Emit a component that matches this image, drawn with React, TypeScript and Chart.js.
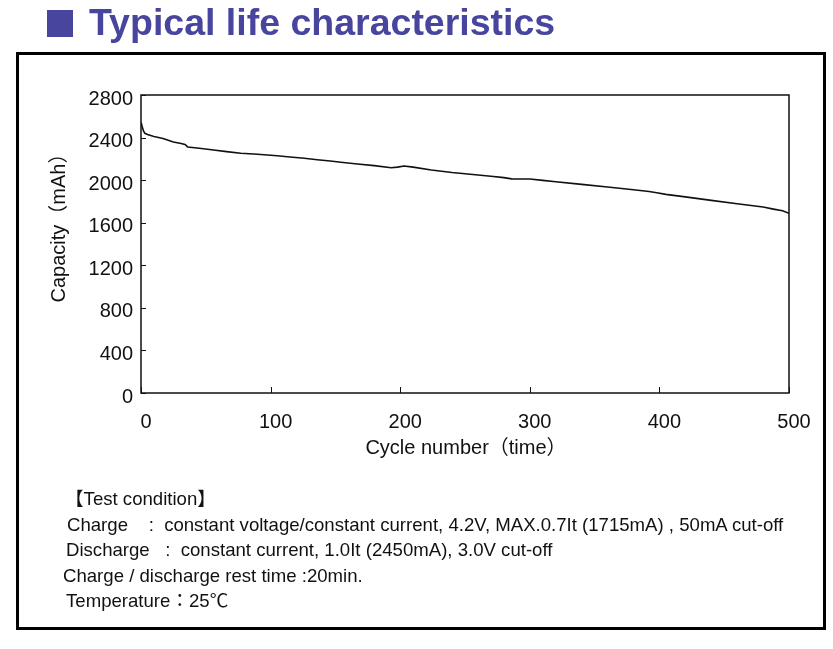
import React, { useEffect, useRef } from "react";
import { Chart, registerables } from "chart.js";

Chart.register(...registerables);

const cycles = [0, 1, 2, 3, 5, 10, 17, 25, 30, 34, 36, 45, 56, 66, 77, 87, 95, 105, 115, 126, 136, 146, 156, 167, 180, 193, 198, 203, 210, 224, 240, 250, 260, 270, 280, 286, 300, 310, 320, 340, 360, 380, 392, 398, 405, 420, 440, 460, 480, 488, 495, 500];
const capacity = [2545, 2500, 2460, 2440, 2428, 2410, 2392, 2358, 2346, 2336, 2312, 2300, 2283, 2268, 2252, 2245, 2238, 2229, 2218, 2205, 2192, 2180, 2166, 2152, 2136, 2117, 2122, 2133, 2122, 2096, 2072, 2060, 2048, 2036, 2024, 2012, 2011, 1998, 1985, 1960, 1935, 1910, 1893, 1882, 1866, 1843, 1810, 1778, 1747, 1728, 1712, 1688];

const xTicks = { min: 0, max: 500, step: 100 };
const yTicks = { min: 0, max: 2800, step: 400 };

const titleText = "Typical life characteristics";
const xTitle = "Cycle number（time）";
const yTitle = "Capacity（mAh）";
const conditionLines = [
  "【Test condition】",
  "Charge    :  constant voltage/constant current, 4.2V, MAX.0.7It (1715mA) , 50mA cut-off",
  "Discharge   :  constant current, 1.0It (2450mA), 3.0V cut-off",
  "Charge / discharge rest time :20min.",
  "Temperature：25℃",
];

const FONT = '"Liberation Sans", Arial, "Noto Sans CJK JP", sans-serif';

const framePlugin = {
  id: "frameTicks",
  afterDatasetsDraw(chart: any) {
    const { ctx, chartArea, scales } = chart;
    ctx.save();
    ctx.strokeStyle = "#111";
    ctx.lineWidth = 1.5;
    ctx.strokeRect(chartArea.left, chartArea.top, chartArea.right - chartArea.left, chartArea.bottom - chartArea.top);
    ctx.lineWidth = 1;
    ctx.beginPath();
    scales.x.ticks.forEach((t: any) => {
      const px = Math.round(scales.x.getPixelForValue(t.value)) + 0.5;
      ctx.moveTo(px, chartArea.bottom);
      ctx.lineTo(px, chartArea.bottom - 6);
    });
    scales.y.ticks.forEach((t: any) => {
      const py = Math.round(scales.y.getPixelForValue(t.value)) + 0.5;
      ctx.moveTo(chartArea.left, py);
      ctx.lineTo(chartArea.left + 5, py);
    });
    ctx.stroke();
    ctx.restore();
  },
};

export default function App() {
  const ref = useRef<HTMLCanvasElement | null>(null);

  useEffect(() => {
    if (!ref.current) return;
    const chart = new Chart(ref.current, {
      type: "line",
      data: {
        datasets: [
          {
            data: cycles.map((c, i) => ({ x: c, y: capacity[i] })),
            borderColor: "#111",
            borderWidth: 1.6,
            pointRadius: 0,
            tension: 0,
            fill: false,
          },
        ],
      },
      options: {
        animation: false,
        responsive: false,
        devicePixelRatio: 1,
        layout: { padding: { left: 0, top: 95, right: 44, bottom: 216 } },
        plugins: { legend: { display: false }, tooltip: { enabled: false } },
        scales: {
          x: {
            type: "linear",
            min: xTicks.min,
            max: xTicks.max,
            grid: { display: false, drawTicks: false },
            border: { display: false },
            ticks: {
              stepSize: xTicks.step,
              color: "#111",
              font: { family: FONT, size: 20 },
              padding: 17,
              labelOffset: 5,
              maxRotation: 0,
              callback: (v: any) => String(v),
            },
            afterFit: (s: any) => {
              s.height = 40;
            },
          },
          y: {
            min: yTicks.min,
            max: yTicks.max,
            grid: { display: false, drawTicks: false },
            border: { display: false },
            ticks: {
              stepSize: yTicks.step,
              color: "#111",
              font: { family: FONT, size: 20 },
              padding: 8,
              labelOffset: 4,
              callback: (v: any) => String(v),
            },
            afterFit: (s: any) => {
              s.width = 141;
            },
          },
        },
      },
      plugins: [framePlugin],
    } as any);
    return () => chart.destroy();
  }, []);

  const lineTops = [489, 515, 540, 566, 591];
  const lineLefts = [65, 67, 66, 63, 66];

  return (
    <div style={{ position: "absolute", left: 0, top: 0, width: 833, height: 649, background: "#fff", overflow: "hidden", fontFamily: FONT }}>
      <canvas ref={ref} width={833} height={649} style={{ position: "absolute", left: 0, top: 0, width: 833, height: 649 }} />
      <div style={{ position: "absolute", left: 47, top: 10, width: 26, height: 27, background: "#47459d" }} />
      <div style={{ position: "absolute", left: 89, top: 4, fontSize: 37.5, lineHeight: "37px", fontWeight: "bold", color: "#47459d", whiteSpace: "nowrap" }}>
        {titleText}
      </div>
      <div style={{ position: "absolute", left: 16, top: 52, width: 804, height: 572, border: "3px solid #000", pointerEvents: "none" }} />
      <div style={{ position: "absolute", left: 266, top: 435, width: 400, textAlign: "center", fontSize: 20, lineHeight: "24px", color: "#111", whiteSpace: "nowrap" }}>
        {xTitle}
      </div>
      <div style={{ position: "absolute", left: -42, top: 211, width: 200, height: 24, textAlign: "center", fontSize: 20, lineHeight: "24px", color: "#111", whiteSpace: "nowrap", transform: "rotate(-90deg)" }}>
        {yTitle}
      </div>
      {conditionLines.map((t, i) => (
        <div key={i} style={{ position: "absolute", left: lineLefts[i], top: lineTops[i], fontSize: 18.6, lineHeight: "20px", color: "#111", whiteSpace: "pre" }}>
          {t}
        </div>
      ))}
    </div>
  );
}
